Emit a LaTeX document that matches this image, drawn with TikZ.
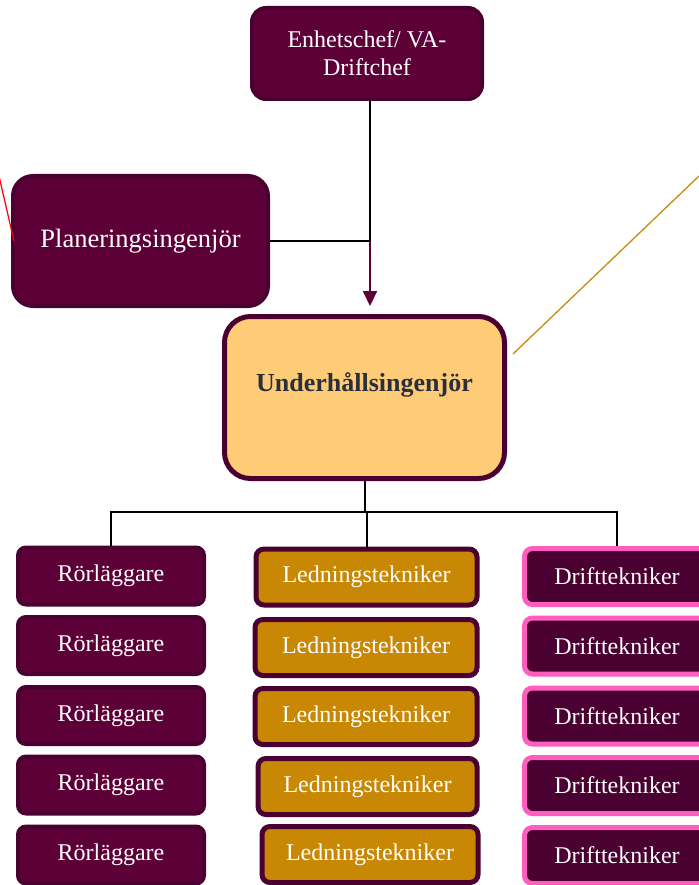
\documentclass[tikz,border=0pt]{standalone}
\usepackage{fontspec}
\setmainfont{Liberation Serif}
\usetikzlibrary{arrows.meta}
\definecolor{plum}{HTML}{5E0038}
\definecolor{plumdark}{HTML}{4A0030}
\definecolor{gold}{HTML}{C98804}
\definecolor{peach}{HTML}{FECC76}
\definecolor{pinkb}{HTML}{FF5EBF}
\definecolor{slate}{HTML}{2B2F3A}
\definecolor{orangeline}{HTML}{CC8A0A}
\tikzset{
  box/.style={draw=plumdark, fill=plum, text=white, line width=4pt, rounded corners=8pt, inner sep=0pt, font=\fontsize{24}{28}\selectfont, align=center},
  rorbox/.style={box, minimum width=186pt, minimum height=57pt},
  ledbox/.style={box, fill=gold, line width=5pt, minimum height=56pt},
  driftbox/.style={box, draw=pinkb, fill=plumdark, line width=5pt, minimum width=185pt, minimum height=56pt},
  conn/.style={draw=black, line width=1.8pt},
}
\begin{document}
\begin{tikzpicture}[x=1pt,y=-1pt]
\useasboundingbox (0,0) rectangle (698,885);
% top boxes
\node[box, rounded corners=14pt, minimum width=230pt, minimum height=91pt] (top) at (367,53.5) {Enhetschef/ VA-\\Driftchef};
\node[box, rounded corners=20pt, minimum width=255pt, minimum height=130pt, font=\fontsize{26.5}{30}\selectfont] (plan) at (140.5,241) {Planeringsingenjör};
\node[box, draw=plumdark, fill=peach, line width=5pt, rounded corners=26pt, minimum width=280pt, minimum height=162pt] (under) at (364.5,397.5) {};
\node[font=\fontsize{26}{30}\selectfont\bfseries, text=slate] (underlbl) at (364.5,385) {Underhållsingenjör};
% side lines
\coordinate (redend) at (-1,176);
\coordinate (plananchor) at (14,241);
\draw[red, line width=1.2pt] (redend) -- (plananchor);
\coordinate (orangeend) at (699,176);
\coordinate (underanchor) at (513,354);
\draw[orangeline, line width=1.3pt] (underanchor) -- (orangeend);
% connectors upper
\coordinate (j) at (370,241);
\draw[conn] (top.south -| j) -- (j);
\draw[conn] (plan.east) -- (j);
\draw[draw=plum, line width=2pt, -{Triangle[length=15pt,width=14pt]}] (j) -- (370,306);
% rows
\foreach \i/\y in {1/576,2/645.5,3/715.5,4/785,5/855}{
  \node[rorbox] (ror\i) at (111,\y) {Rörläggare};
  \node[driftbox] (drift\i) at (617,\y+0.5) {Drifttekniker};
}
\node[ledbox, minimum width=221pt] (led1) at (366.5,577) {Ledningstekniker};
\node[ledbox, minimum width=222pt] (led2) at (366,647.5) {Ledningstekniker};
\node[ledbox, minimum width=222pt] (led3) at (366,716.5) {Ledningstekniker};
\node[ledbox, minimum width=219pt] (led4) at (367.5,786.5) {Ledningstekniker};
\node[ledbox, minimum width=216pt] (led5) at (370,854.5) {Ledningstekniker};
% connectors lower
\coordinate (k) at (365,512);
\coordinate (m) at (367,512);
\draw[conn] (under.south -| k) -- (k);
\draw[conn] (ror1.north) -- (ror1.north |- k) -- (drift1.north |- k) -- (drift1.north);
\draw[conn] (m) -- (led1.north -| m);
\end{tikzpicture}
\end{document}
